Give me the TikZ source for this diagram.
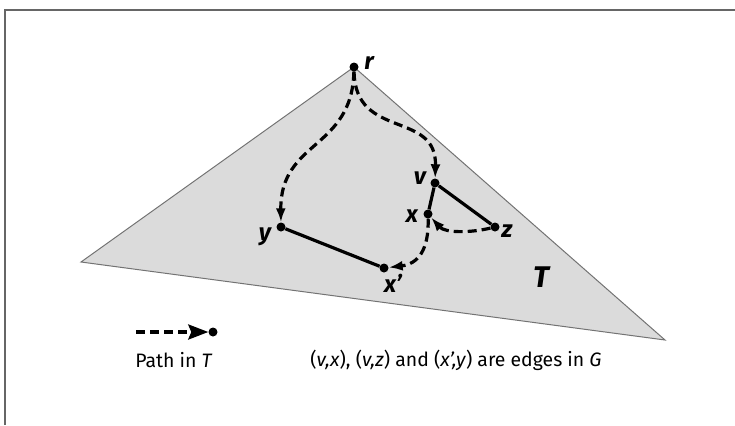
\documentclass[tikz,border=0pt]{standalone}
\usepackage{fontspec}
\setmainfont{Fira Sans}
\usetikzlibrary{arrows.meta}
\begin{document}
\begin{tikzpicture}[x=1bp,y=-1bp,
  dot/.style={circle,fill=black,draw=none,inner sep=0pt,minimum size=9bp},
  lbl/.style={font=\fontsize{24}{24}\selectfont\bfseries\itshape,inner sep=0pt},
  txt/.style={font=\fontsize{19.5}{19.5}\selectfont,inner sep=0pt},
  tpath/.style={line width=3.2bp,dash pattern=on 9bp off 5bp,-{Latex[length=14bp,width=10bp]}},
  gedge/.style={line width=3.2bp}]
\useasboundingbox (0,0) rectangle (735,425);
\draw[line width=2.2bp,draw=black!60] (5,425) -- (5,10) -- (735,10);
% tree region T
\coordinate (ta) at (354,67);
\coordinate (tl) at (81,262);
\coordinate (tr) at (665,340);
\filldraw[fill=black!14,draw=black!55,line width=1bp] (ta) -- (tl) -- (tr) -- cycle;
% vertices
\node[dot] (r) at (354,67) {};
\node[dot] (v) at (435,183) {};
\node[dot] (x) at (428,214) {};
\node[dot] (z) at (495,227) {};
\node[dot] (y) at (281,227) {};
\node[dot] (xp) at (384,268) {};
% labels
\node[lbl] (lr) at (369,63) {r};
\node[lbl] (lv) at (420,178) {v};
\node[lbl] (lx) at (412,216) {x};
\node[lbl] (lz) at (507,231) {z};
\node[lbl] (ly) at (265,237) {y};
\node[lbl] (lxp) at (393,283) {x’};
\node[font=\fontsize{30}{30}\selectfont\bfseries\itshape,inner sep=0pt] (lT) at (541,277) {T};
% edges of G
\draw[gedge] (v) -- (x);
\draw[gedge] (v) -- (z);
\draw[gedge] (y) -- (xp);
% paths in T
\draw[tpath] (r) .. controls (352,150) and (280,140) .. (y);
\draw[tpath] (r) .. controls (355,140) and (437,110) .. (v);
\draw[tpath] (z) .. controls (470,233) and (445,233) .. (x);
\draw[tpath] (x) .. controls (429,250) and (418,264) .. (xp);
% legend
\coordinate (la) at (136,332);
\node[dot] (ld) at (213,332) {};
\draw[line width=3.2bp,dash pattern=on 9bp off 5bp,-{Stealth[length=20bp,width=15bp,inset=3bp]}] (la) -- (ld);
\node[txt] (lp) at (174,360) {Path in \textit{T}};
\node[txt] (lc) at (456,360) {(\textit{v,x}), (\textit{v,z}) and (\textit{x’,y}) are edges in \textit{G}};
\end{tikzpicture}
\end{document}
